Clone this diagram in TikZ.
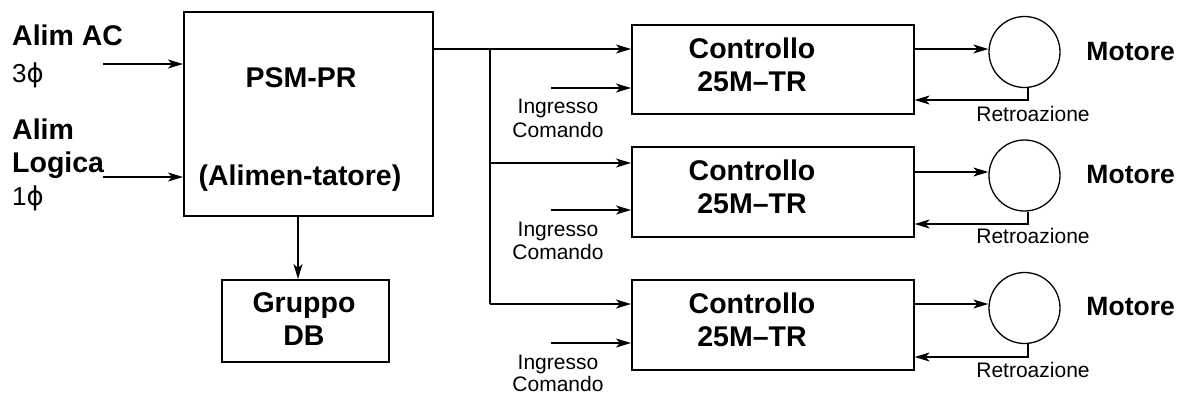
\documentclass[tikz,border=0pt]{standalone}
\usepackage{fontspec}
\setmainfont{Liberation Sans}
\newfontfamily\phifont{DejaVu Sans}
\usetikzlibrary{arrows.meta}
\begin{document}
\begin{tikzpicture}[x=1pt,y=-1pt,
  blk/.style={draw, line width=1.6pt, anchor=north west, inner sep=0pt},
  motor/.style={draw, circle, line width=1.3pt, minimum size=71pt, inner sep=0pt},
  wire/.style={line width=1.3pt},
  arr/.style={wire, -{Stealth[length=15pt,width=9pt,inset=4pt]}},
  big/.style={font=\bfseries\fontsize{28.5}{31}\selectfont, inner sep=0pt},
  mot/.style={font=\bfseries\fontsize{26.5}{29}\selectfont, inner sep=0pt},
  small/.style={font=\fontsize{21}{23}\selectfont, inner sep=0pt},
  mid/.style={font=\fontsize{26}{28}\selectfont, inner sep=0pt}]
\useasboundingbox (0,0) rectangle (1178,394);

% left labels
\node[big, anchor=base west] (alimac) at (12,45) {Alim AC};
\node[mid, anchor=base west] (tre) at (12,82) {3{\phifont ϕ}};
\node[big, anchor=base west] (alim) at (12,139) {Alim};
\node[big, anchor=base west] (logica) at (12,172) {Logica};
\node[mid, anchor=base west] (uno) at (12,205) {1{\phifont ϕ}};

% PSM box
\node[blk, minimum width=249pt, minimum height=204pt] (psm) at (183,11) {};
\node[big, anchor=base] (psmt) at (301,87) {PSM-PR};
\node[big, anchor=base] (alimt) at (300,185) {(Alimen-tatore)};

\coordinate (acin) at (103,64);
\coordinate (lgin) at (103,177);
\draw[arr] (acin) -- (acin -| psm.west);
\draw[arr] (lgin) -- (lgin -| psm.west);

% Gruppo DB
\node[blk, minimum width=167pt, minimum height=82pt] (db) at (221,279) {};
\node[big, anchor=base] (dbt1) at (304,312) {Gruppo};
\node[big, anchor=base] (dbt2) at (304,345) {DB};
\coordinate (dbx) at (298,250);
\draw[arr] (dbx |- psm.south) -- (dbx |- db.north);

% control boxes
\node[blk, minimum width=282pt, minimum height=89pt] (c1) at (631,24) {};
\node[blk, minimum width=282pt, minimum height=90pt] (c2) at (631,146) {};
\node[blk, minimum width=282pt, minimum height=90pt] (c3) at (631,279) {};
\foreach \n/\t in {1/24,2/146,3/279}{
  \node[big, anchor=base] (ct\n) at (752,\t+34) {Controllo};
  \node[big, anchor=base] (cm\n) at (752,\t+67) {25M--TR};
}

% bus
\coordinate (j1) at (490,49);
\coordinate (j2) at (490,163);
\coordinate (j3) at (490,304);
\draw[arr] (j1 -| psm.east) -- (j1 -| c1.west);
\draw[wire] (j1) -- (j3);
\draw[arr] (j2) -- (j2 -| c2.west);
\draw[arr] (j3) -- (j3 -| c3.west);

% command inputs
\coordinate (i1) at (551,88);
\coordinate (i2) at (551,210);
\coordinate (i3) at (551,343);
\draw[arr] (i1) -- (i1 -| c1.west);
\draw[arr] (i2) -- (i2 -| c2.west);
\draw[arr] (i3) -- (i3 -| c3.west);
\node[small, anchor=base] (in1) at (558,113) {Ingresso};
\node[small, anchor=base] (co1) at (558,137) {Comando};
\node[small, anchor=base] (in2) at (558,236) {Ingresso};
\node[small, anchor=base] (co2) at (558,259) {Comando};
\node[small, anchor=base] (in3) at (558,369) {Ingresso};
\node[small, anchor=base] (co3) at (558,391) {Comando};

% motors
\node[motor] (m1) at (1024.5,52) {};
\node[motor] (m2) at (1024.5,175.5) {};
\node[motor] (m3) at (1024.5,308) {};
\node[mot, anchor=base east] (mt1) at (1175,60) {Motore};
\node[mot, anchor=base east] (mt2) at (1175,183) {Motore};
\node[mot, anchor=base east] (mt3) at (1175,315) {Motore};

\coordinate (o1) at (950,49);
\coordinate (o2) at (950,172);
\coordinate (o3) at (950,304);
\draw[arr] (o1 -| c1.east) -- (o1 -| m1.west);
\draw[arr] (o2 -| c2.east) -- (o2 -| m2.west);
\draw[arr] (o3 -| c3.east) -- (o3 -| m3.west);

\coordinate (f1) at (1028,100);
\coordinate (f2) at (1028,224);
\coordinate (f3) at (1028,357);
\draw[arr] (f1 |- m1.south) -- (f1) -- (f1 -| c1.east);
\draw[arr] (f2 |- m2.south) -- (f2) -- (f2 -| c2.east);
\draw[arr] (f3 |- m3.south) -- (f3) -- (f3 -| c3.east);
\node[small, anchor=base] (r1) at (1033,121) {Retroazione};
\node[small, anchor=base] (r2) at (1033,243) {Retroazione};
\node[small, anchor=base] (r3) at (1033,377) {Retroazione};
\end{tikzpicture}
\end{document}
